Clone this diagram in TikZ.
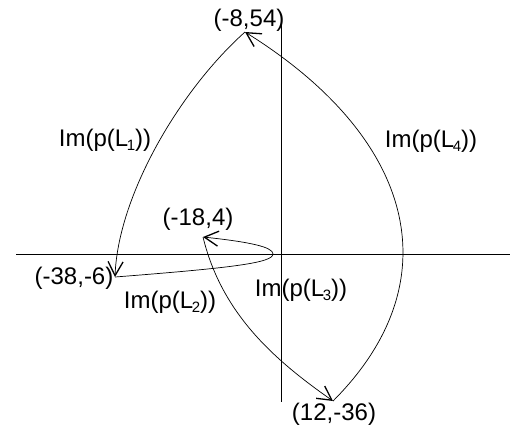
\documentclass[tikz,border=0pt]{standalone}
\usepackage{fontspec}
\setmainfont{Liberation Sans}
\usetikzlibrary{arrows.meta, positioning}

\begin{document}
\begin{tikzpicture}[
    x=1pt, y=-1pt,
    axis/.style={draw, line width=0.8pt},
    curve/.style={draw, line width=0.7pt,
                  -{Straight Barb[length=14pt, width=15pt, line width=1.3pt]}},
    pointlabel/.style={inner sep=0pt, font=\fontsize{24}{28}\selectfont},
    curvelabel/.style={inner sep=0pt, font=\fontsize{24}{28}\selectfont},
]
  \useasboundingbox (0,0) rectangle (510,426);

  \coordinate (xl) at (16,254);
  \coordinate (xr) at (510,254);
  \coordinate (yt) at (281,25);
  \coordinate (yb) at (281,402);
  \draw[axis] (xl) -- (xr);
  \draw[axis] (yt) -- (yb);

  \coordinate (ptop)  at (245,32);
  \coordinate (pleft) at (115,277);
  \coordinate (pmid)  at (203,237);
  \coordinate (pbot)  at (333,401);
  \coordinate (pturn) at (273,254);

  \draw[curve] (pbot) .. controls (453,281) and (415,138) .. (ptop);
  \draw[curve] (ptop) .. controls (178,92) and (118,197) .. (pleft);
  \draw[curve] (pleft) .. controls (230,268) and (273,263) .. (pturn)
                       .. controls (273,247) and (250,242) .. (pmid);
  \draw[curve] (pmid) .. controls (222,315) and (276,361) .. (pbot);

  \node[pointlabel] (ltop)  at (249,20)  {(-8,54)};
  \node[pointlabel] (lleft) at (74,278)  {(-38,-6)};
  \node[pointlabel] (lmid)  at (198,219) {(-18,4)};
  \node[pointlabel] (lbot)  at (334,414) {(12,-36)};

  \node[curvelabel] (im1) at (105,140) {Im(p(L\kern-1.5pt\raisebox{-4pt}{\fontsize{15}{15}\selectfont 1}))};
  \node[curvelabel] (im2) at (170,302) {Im(p(L\kern-1.5pt\raisebox{-4pt}{\fontsize{15}{15}\selectfont 2}))};
  \node[curvelabel] (im3) at (301,290) {Im(p(L\kern-1.5pt\raisebox{-4pt}{\fontsize{15}{15}\selectfont 3}))};
  \node[curvelabel] (im4) at (431,141) {Im(p(L\kern-1.5pt\raisebox{-4pt}{\fontsize{15}{15}\selectfont 4}))};
\end{tikzpicture}
\end{document}
